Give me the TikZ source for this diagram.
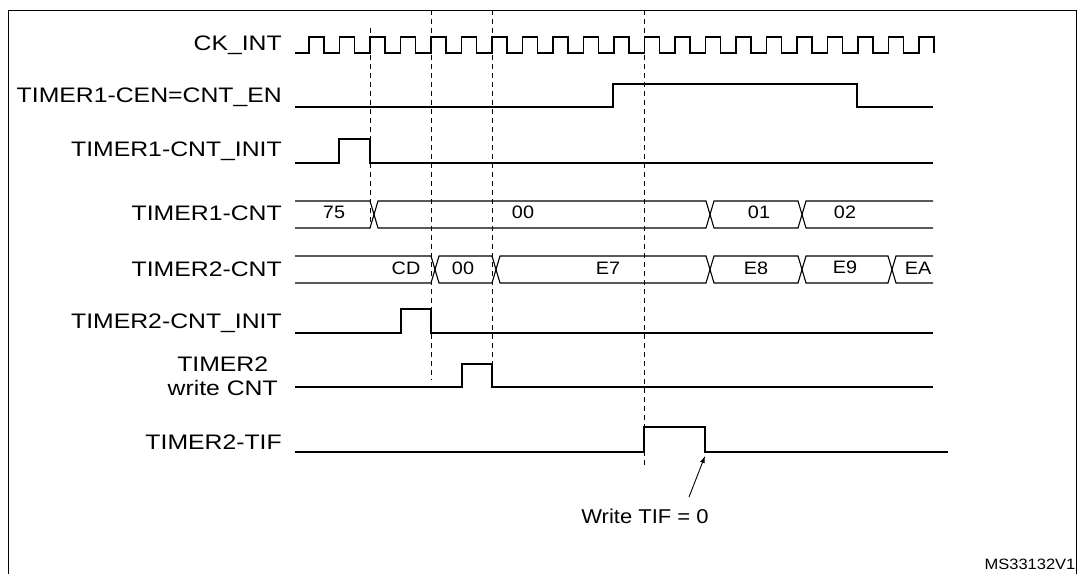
\documentclass[tikz,border=0pt]{standalone}
\usepackage{fontspec}
\setmainfont{Liberation Sans}
\usetikzlibrary{arrows.meta}
\begin{document}
\begin{tikzpicture}[x=1pt,y=-1pt,
  sig/.style={line width=1.1pt},
  guide/.style={line width=0.9pt,dash pattern=on 5pt off 4pt},
  lbl/.style={font=\fontsize{21}{24}\selectfont,anchor=east,inner sep=0pt,xscale=1.18},
  val/.style={font=\fontsize{18}{20}\selectfont,inner sep=0pt,xscale=1.1}]
\useasboundingbox (0,0) rectangle (1079,573);
\draw[line width=1pt] (8,590) -- (8,10) -- (1076,10) -- (1076,590);
% dashed guides
\draw[guide] (370,28) -- (370,228);
\draw[guide] (431,10) -- (431,380);
\draw[guide] (492,10) -- (492,387);
\draw[guide] (644,10) -- (644,468);
% labels
\node[lbl] (l1) at (282,45) {CK\_INT};
\node[lbl] (l2) at (282,97) {TIMER1-CEN=CNT\_EN};
\node[lbl] (l3) at (282,151) {TIMER1-CNT\_INIT};
\node[lbl] (l4) at (282,213) {TIMER1-CNT};
\node[lbl] (l5) at (282,269) {TIMER2-CNT};
\node[lbl,align=center] (l7) at (278,376) {TIMER2\\write CNT};
\node[lbl] (l6) at (282,323) {TIMER2-CNT\_INIT};
\node[lbl] (l8) at (282,442) {TIMER2-TIF};
% clock
\draw[sig] (295,53) -- (309,53)
  \foreach \k in {0,...,19} { -- ({309+30.5*\k},37) -- ({324+30.5*\k},37) -- ({324+30.5*\k},53) -- ({339.5+30.5*\k},53) }
  -- (919,37) -- (934,37) -- (934,53);
% CEN
\draw[sig] (295,107) -- (613,107) -- (613,84) -- (857,84) -- (857,107) -- (933,107);
% T1 INIT
\draw[sig] (295,163) -- (339,163) -- (339,139) -- (370,139) -- (370,163) -- (933,163);
% T1 CNT bus
\draw[sig] (295,201) -- (370,201) -- (378,228) -- (706,228) -- (714,201) -- (798,201) -- (806,228) -- (933,228);
\draw[sig] (295,228) -- (370,228) -- (378,201) -- (706,201) -- (714,228) -- (798,228) -- (806,201) -- (933,201);
\node[val] (v75) at (334,212) {75};
\node[val] (v00a) at (523,212) {00};
\node[val] (v01) at (759,212) {01};
\node[val] (v02) at (845,212) {02};
% T2 CNT bus
\draw[sig] (295,256) -- (431,256) -- (439,283) -- (492,283) -- (500,256) -- (706,256) -- (714,283) -- (798,283) -- (806,256) -- (888,256) -- (896,283) -- (933,283);
\draw[sig] (295,283) -- (431,283) -- (439,256) -- (492,256) -- (500,283) -- (706,283) -- (714,256) -- (798,256) -- (806,283) -- (888,283) -- (896,256) -- (933,256);
\node[val] (vcd) at (406,268) {CD};
\node[val] (v00b) at (463,268) {00};
\node[val] (ve7) at (608,268) {E7};
\node[val] (ve8) at (756,268) {E8};
\node[val] (ve9) at (845,267) {E9};
\node[val] (vea) at (918,268) {EA};
% T2 INIT
\draw[sig] (295,333) -- (401,333) -- (401,309) -- (431,309) -- (431,333) -- (933,333);
% write CNT
\draw[sig] (295,387) -- (462,387) -- (462,364) -- (492,364) -- (492,387) -- (933,387);
% TIF
\draw[sig] (295,452) -- (644,452) -- (644,427) -- (705,427) -- (705,452) -- (948,452);
\coordinate (tip) at (705,456);
\node[val,font=\fontsize{20}{22}\selectfont] (w) at (645,516) {Write TIF = 0};
\draw[line width=0.9pt,-{Latex[length=7pt,width=5pt]}] (689,497) -- (tip);
\node[val,font=\fontsize{15}{17}\selectfont] (ms) at (1030,564) {MS33132V1};
\end{tikzpicture}
\end{document}
